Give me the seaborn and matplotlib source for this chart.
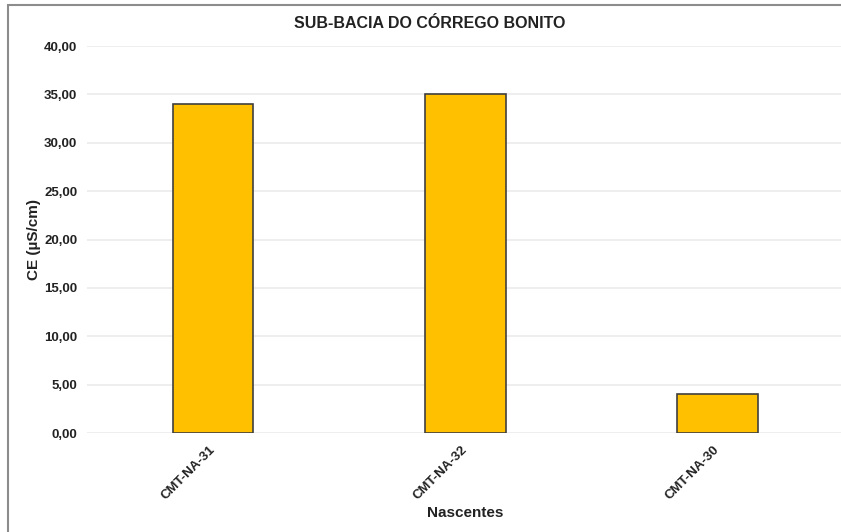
import matplotlib
matplotlib.use('Agg')
import matplotlib.pyplot as plt
import matplotlib.ticker as mticker
import matplotlib.patches as mpatches
import matplotlib.transforms as mtransforms
import seaborn as sns
import pandas as pd

# dados
nascentes = ['CMT-NA-31', 'CMT-NA-32', 'CMT-NA-30']
ce_valores = [34.0, 35.0, 4.0]

df = pd.DataFrame({'Nascentes': nascentes, 'CE': ce_valores})

sns.set_theme(style='white')
plt.rcParams['font.family'] = ['Liberation Sans', 'DejaVu Sans']
plt.rcParams['font.weight'] = 'bold'

fig = plt.figure(figsize=(8.41, 5.32), dpi=100)
ax = fig.add_axes([87 / 841, 1 - 433 / 532, 1 - 87 / 841, (433 - 46) / 532])

sns.barplot(data=df, x='Nascentes', y='CE', color='#FFC000', width=0.32,
            edgecolor='#404040', linewidth=1.2, saturation=1, ax=ax, zorder=3)

ax.set_ylim(0, 40)
ax.set_xlim(-0.5, 2.49)
ax.yaxis.set_major_locator(mticker.MultipleLocator(5))
ax.yaxis.set_major_formatter(mticker.FuncFormatter(lambda v, p: f'{v:.2f}'.replace('.', ',')))
ax.grid(axis='y', color='#EBEBEB', linewidth=1.2, zorder=0)
for s in ax.spines.values():
    s.set_visible(False)
ax.tick_params(axis='y', length=0, labelsize=9.5, colors='#222222', pad=7)
ax.tick_params(axis='x', length=0, labelsize=9.5, colors='#222222', pad=8)
desloc = mtransforms.ScaledTranslation(-4 / 100, 0, fig.dpi_scale_trans)
for lbl in ax.get_xticklabels():
    lbl.set_rotation(45)
    lbl.set_ha('right')
    lbl.set_rotation_mode('anchor')
    lbl.set_fontweight('bold')
    lbl.set_transform(lbl.get_transform() + desloc)
plt.setp(ax.get_yticklabels(), fontweight='bold')

ax.set_xlabel('')
ax.set_ylabel('')
fig.text(465 / 841, 1 - 513 / 532, 'Nascentes', ha='center', va='center',
         fontsize=11, fontweight='bold', color='#222222')
fig.text(34 / 841, 1 - 239 / 532, 'CE (µS/cm)', ha='center', va='center', rotation=90,
         fontsize=11, fontweight='bold', color='#222222')
fig.text(430 / 841, 1 - 23 / 532, 'SUB-BACIA DO CÓRREGO BONITO', ha='center', va='center',
         fontsize=11.5, fontweight='bold', color='#222222')

# moldura do gráfico
fig.patches.append(mpatches.Rectangle((8 / 841, -0.1), 1.1, 1.1 - 5 / 532, transform=fig.transFigure,
                                      fill=False, edgecolor='#8C8C8C', linewidth=1.5))

fig.savefig('out.png', dpi=100)
